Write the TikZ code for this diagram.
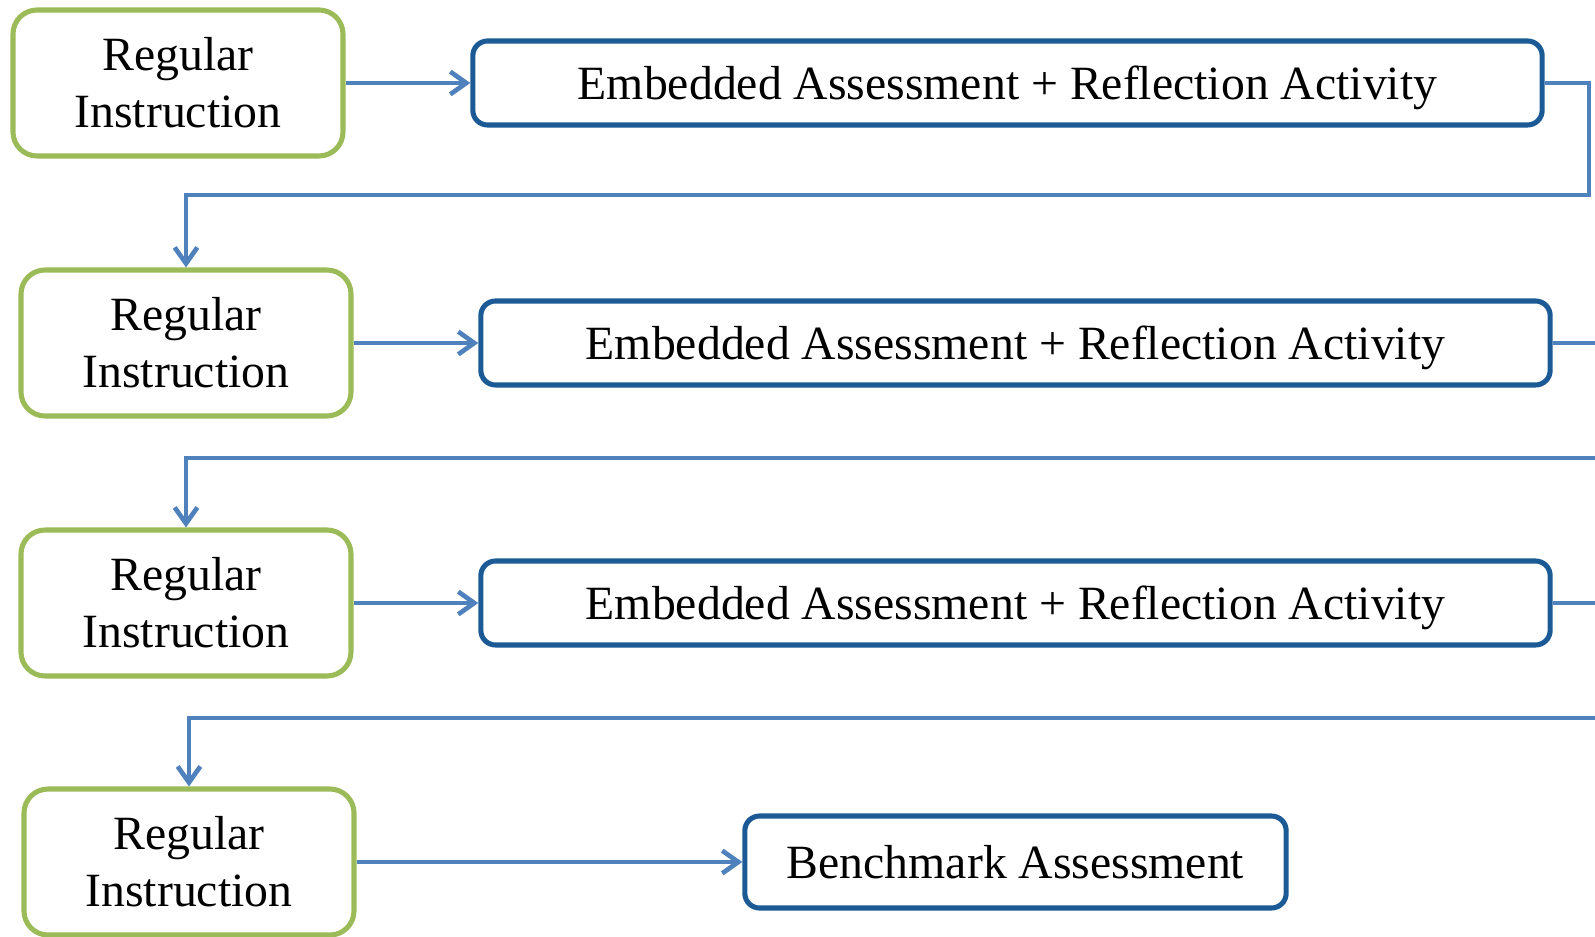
\documentclass[tikz,border=0pt]{standalone}
\usepackage{fontspec}
\setmainfont{Liberation Serif}
\usetikzlibrary{arrows.meta}

\definecolor{instrgreen}{RGB}{155,187,89}
\definecolor{assessblue}{RGB}{28,90,150}
\definecolor{linkblue}{RGB}{79,129,189}

\tikzset{every picture/.style={line width=0.75pt}}
\tikzset{
  instrbox/.style={draw=instrgreen, line width=3.8pt, rounded corners=18pt,
    minimum width=247.5pt, minimum height=109.5pt, inner sep=0pt,
    align=center, font=\fontsize{35.8}{42.75}\selectfont},
  assessbox/.style={draw=assessblue, line width=3.8pt, rounded corners=11pt,
    minimum height=63pt, inner sep=0pt, text height=32pt, text depth=7.8pt,
    font=\fontsize{35.8}{42}\selectfont},
  link/.style={draw=linkblue, line width=3.5pt,
    -{Straight Barb[length=12pt,width=17pt]}}
}

\begin{document}
\begin{tikzpicture}[x=0.75pt,y=0.75pt,yscale=-1,xscale=1]
\useasboundingbox (0,0) rectangle (1595,937);

%Shape: Rounded Rect [row 1]
\node [instrbox] (g1) at (178,83) {Regular\\Instruction};
\node [assessbox, minimum width=802pt] (b1) at (1007.5,83) {Embedded Assessment + Reflection Activity};
%Shape: Rounded Rect [row 2]
\node [instrbox] (g2) at (186,343) {Regular\\Instruction};
\node [assessbox, minimum width=802pt] (b2) at (1015.5,343) {Embedded Assessment + Reflection Activity};
%Shape: Rounded Rect [row 3]
\node [instrbox] (g3) at (186,603) {Regular\\Instruction};
\node [assessbox, minimum width=802pt] (b3) at (1015.5,603) {Embedded Assessment + Reflection Activity};
%Shape: Rounded Rect [row 4]
\node [instrbox] (g4) at (189,862) {Regular\\Instruction};
\node [assessbox, minimum width=406pt, minimum height=69pt] (b4) at (1015.5,862) {Benchmark Assessment};

%turning points at the right edge
\coordinate (r1) at (1589,195);
\coordinate (r2) at (1600,458);
\coordinate (r3) at (1600,718);

%Straight Lines
\draw [link] (g1.east) -- (b1.west);
\draw [link] (g2.east) -- (b2.west);
\draw [link] (g3.east) -- (b3.west);
\draw [link] (g4.east) -- (b4.west);

%Elbow Lines
\draw [link] (b1.east) -| (r1) -| (g2.north);
\draw [link] (b2.east) -| (r2) -| (g3.north);
\draw [link] (b3.east) -| (r3) -| (g4.north);

\end{tikzpicture}
\end{document}
